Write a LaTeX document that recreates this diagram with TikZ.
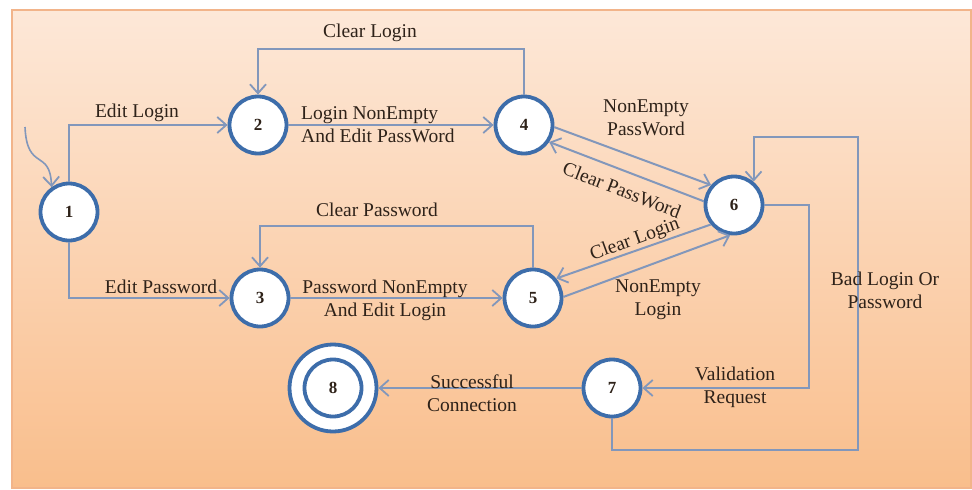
\documentclass[tikz,border=0pt]{standalone}
\usepackage{fontspec}
\setmainfont{Liberation Serif}
\usetikzlibrary{arrows.meta}
\definecolor{nodeblue}{HTML}{3D6DAA}
\definecolor{linecol}{HTML}{8297BB}
\definecolor{txtcol}{HTML}{2E2219}
\definecolor{bgtop}{HTML}{FDE8D8}
\definecolor{bgmid}{HTML}{FCD6B6}
\definecolor{bgbot}{HTML}{F9BE8C}
\definecolor{bgborder}{HTML}{F2B48A}
\tikzset{
  state/.style={circle, draw=nodeblue, line width=3.8pt, fill=white, minimum size=57pt, inner sep=0pt,
    font=\fontsize{17}{17}\selectfont\bfseries, text=txtcol},
  conn/.style={draw=linecol, line width=2pt, -{Straight Barb[length=9pt,width=16pt,line width=1.8pt]}},
  lbl/.style={font=\fontsize{19.5}{23}\selectfont, text=txtcol, align=center, inner sep=0pt},
}
\begin{document}
\begin{tikzpicture}[x=1pt,y=-1pt]
\useasboundingbox (0,0) rectangle (972,490);
\fill[white] (0,0) rectangle (972,490);
\shade[top color=bgtop, middle color=bgmid, bottom color=bgbot] (12,10) rectangle (971,488);
\draw[bgborder, line width=1.5pt] (12,10) rectangle (971,488);

% states
\node[state] (n1) at (69,212) {1};
\node[state] (n2) at (258,125) {2};
\node[state] (n3) at (260,298) {3};
\node[state] (n4) at (524,125) {4};
\node[state] (n5) at (533,298) {5};
\node[state] (n6) at (734,205) {6};
\node[state] (n7) at (612,388) {7};
\node[state, minimum size=87pt] (n8) at (333,388) {};
\node[state] (n8i) at (333,388) {8};

% initial arrow
\coordinate (s0) at (25,127);
\draw[conn, line width=1.6pt] (s0) .. controls (27,172) and (50,148) .. (n1.125);

% transitions
\draw[conn] (n1.north) |- (n2.west);
\draw[conn] (n1.south) |- (n3.west);
\draw[conn] (n2) -- (n4);
\draw[conn] (n4.north) -- ++(0,-46) -| (n2.north);
\draw[conn] (n3) -- (n5);
\draw[conn] (n5.north) -- ++(0,-42) -| (n3.north);
\draw[conn] (n4.-4) -- (n6.139);
\draw[conn] (n6.173) -- (n4.-34);
\draw[conn] (n5.2) -- (n6.-97);
\draw[conn] (n6.-140) -- (n5.40);
\coordinate (v1) at (809,205);
\draw[conn] (n6.east) -- (v1) |- (n7.east);
\coordinate (b1) at (858,450);
\coordinate (b2) at (858,137);
\draw[conn] (n7.south) |- (b1) -- (b2) -| (n6.50);
\draw[conn] (n7) -- (n8);

% labels
\node[lbl] (l1) at (137,113) {Edit Login};
\node[lbl, align=left, anchor=west] (l2) at (301,125) {Login NonEmpty\\And Edit PassWord};
\node[lbl] (l3) at (370,33) {Clear Login};
\node[lbl] (l4) at (377,210) {Clear Password};
\node[lbl] (l5) at (161,287) {Edit Password};
\node[lbl] (l6) at (385,300) {Password NonEmpty\\And Edit Login};
\node[lbl] (l7) at (646,118) {NonEmpty\\PassWord};
\node[lbl, rotate=-21] (l8) at (622,190) {Clear PassWord};
\node[lbl, rotate=20] (l9) at (635,240) {Clear Login};
\node[lbl] (l10) at (658,300) {NonEmpty\\Login};
\node[lbl] (l11) at (885,290) {Bad Login Or\\Password};
\node[lbl] (l12) at (735,387) {Validation\\Request};
\node[lbl] (l13) at (472,393) {Successful\\Connection};
\end{tikzpicture}
\end{document}
